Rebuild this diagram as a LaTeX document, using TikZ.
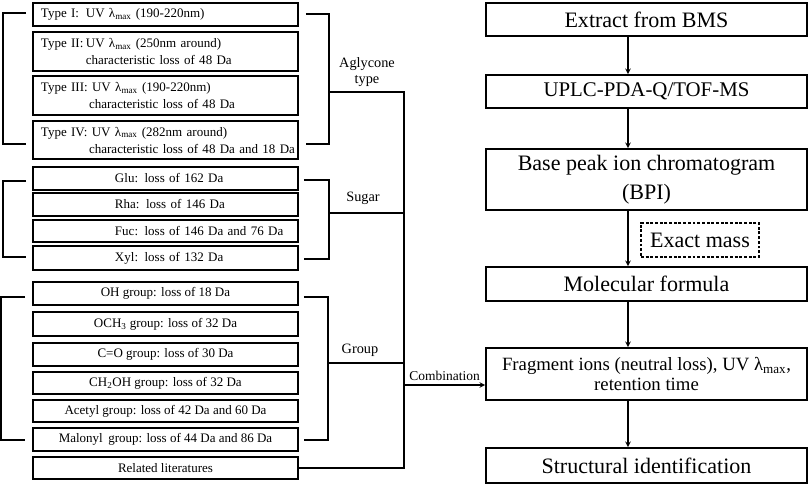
\documentclass[tikz,border=0pt]{standalone}
\usepackage{fontspec}
\setmainfont{Liberation Serif}
\usepackage{tikz}
\usetikzlibrary{arrows,positioning,calc}
\newcommand{\lmax}{λ\textsubscript{max}}
\tikzstyle{leftbox} = [rectangle, draw, line width=1.5pt, minimum width=7.95cm, minimum height=0.69cm, inner xsep=0.24cm, inner ysep=0pt, font=\fontsize{11.1}{14.5}\selectfont]
\tikzstyle{typebox} = [leftbox, text width=7.47cm, align=left]
\tikzstyle{groupbox} = [leftbox, align=center]
\tikzstyle{flowbox} = [rectangle, draw, line width=1.5pt, minimum width=9.63cm, inner ysep=0pt, align=center, font=\fontsize{18.8}{24.5}\selectfont]
\tikzstyle{link} = [line width=1.2pt]
\tikzstyle{arrow} = [line width=1.1pt,->,>=stealth]
\tikzstyle{tag} = [font=\fontsize{12.2}{14}\selectfont, align=center]

\begin{document}
\begin{tikzpicture}[x=0.03cm, y=-0.03cm]
\useasboundingbox (0,0) rectangle (809,485);

% Aglycone types
\node[typebox] (t1) at (165.5,14.5) {\makebox[3.45em][l]{Type I:}UV \lmax{} (190-220nm)};
\node[typebox, minimum height=1.17cm] (t2) at (165.5,51.5) {\makebox[3.45em][l]{Type II:}UV \lmax{} (250nm around)\\\hspace*{3.45em}characteristic loss of 48 Da};
\node[typebox, minimum height=1.17cm] (t3) at (165.5,95.5) {Type III: UV \lmax{} (190-220nm)\\\hspace*{3.7em}characteristic loss of 48 Da};
\node[typebox, minimum height=1.14cm] (t4) at (165.5,140) {Type IV: UV \lmax{} (282nm around)\\\hspace*{3.7em}\mbox{characteristic loss of 48 Da and 18 Da}};

% Sugars
\node[typebox] (glu) at (165.5,178.5) {\hspace*{2.22cm}Glu: loss of 162 Da};
\node[typebox] (rha) at (165.5,204.5) {\hspace*{2.22cm}Rha: loss of 146 Da};
\node[typebox, minimum height=0.66cm] (fuc) at (165.5,231) {\hspace*{2.22cm}Fuc: loss of 146 Da and 76 Da};
\node[typebox, minimum height=0.72cm] (xyl) at (165.5,258) {\hspace*{2.22cm}Xyl: loss of 132 Da};

% Groups
\node[groupbox] (oh) at (165.5,293.5) {OH group: loss of 18 Da};
\node[groupbox, minimum height=0.72cm] (och3) at (165.5,324) {OCH\textsubscript{3} group: loss of 32 Da};
\node[groupbox] (co) at (165.5,354.5) {C=O group: loss of 30 Da};
\node[groupbox, minimum height=0.66cm] (ch2oh) at (165.5,383) {CH\textsubscript{2}OH group: loss of 32 Da};
\node[groupbox, minimum height=0.66cm] (acetyl) at (165.5,411) {Acetyl group: loss of 42 Da and 60 Da};
\node[groupbox] (malonyl) at (165.5,439.5) {Malonyl\, group: loss of 44 Da and 86 Da};
\node[groupbox, minimum height=0.66cm] (related) at (165.5,468) {Related literatures};

% Brackets
\draw[link] ($(t1.west)+(-6,-1.5)$) -- ++(-23,0) |- ($(t4.west)+(-6,4)$);
\draw[link] ($(t1.east)+(7,-0.5)$) -- ++(23,0) |- ($(t4.east)+(7,4)$);
\draw[link] ($(glu.west)+(-6,2.5)$) -- ++(-23,0) |- ($(xyl.west)+(-6,-1)$);
\draw[link] ($(glu.east)+(5,1.5)$) -- ++(25,0) |- ($(xyl.east)+(5,1)$);
\draw[link] ($(oh.west)+(-7,3.5)$) -- ++(-24,0) |- ($(malonyl.west)+(-7,0.5)$);
\draw[link] ($(oh.east)+(5,3.5)$) -- ++(24,0) |- ($(malonyl.east)+(5,0.5)$);

\node[tag] (aglab) at (367,72) {Aglycone\\type};
\node[tag] (sugarlab) at (363,198) {Sugar};
\node[tag] (grouplab) at (360,350) {Group};

% Trunk
\coordinate (trunk) at (404,0);
\coordinate (ag) at (328,92);
\coordinate (su) at (328,213);
\coordinate (gr) at (327,363);
\coordinate (comb) at (404,385);
\draw[link] (ag) -- (ag -| trunk) -- (trunk |- related.east) -- (related.east);
\draw[link] (su) -- (su -| trunk);
\draw[link] (gr) -- (gr -| trunk);

% Workflow
\node[flowbox, minimum height=0.99cm] (extract) at (646.5,19.5) {Extract from BMS};
\node[flowbox, minimum height=0.99cm, font=\fontsize{17.8}{22}\selectfont] (uplc) at (646.5,91.5) {UPLC-PDA-Q/TOF-MS};
\node[flowbox, minimum height=1.83cm] (bpi) at (646.5,179.5) {Base peak ion chromatogram\\(BPI)};
\node[flowbox, minimum width=3.54cm, minimum height=1.02cm, line width=0.9pt, dash pattern=on 2.5pt off 1.5pt] (exact) at (700,240) {Exact mass};
\node[flowbox, minimum height=1.02cm] (formula) at (646.5,284) {Molecular formula};
\node[flowbox, minimum height=1.56cm, font=\fontsize{16}{17}\selectfont] (fragment) at (646.5,374) {Fragment ions (neutral loss), UV \lmax,\\retention time};
\node[flowbox, minimum height=1.05cm] (struct) at (646.5,465.5) {Structural identification};

\coordinate (ax) at (628,0);
\draw[arrow] (extract.south -| ax) -- (uplc.north -| ax);
\draw[arrow] (uplc.south -| ax) -- (bpi.north -| ax);
\draw[arrow] (bpi.south -| ax) -- (formula.north -| ax);
\draw[arrow] (formula.south -| ax) -- (fragment.north -| ax);
\draw[arrow] (fragment.south -| ax) -- (struct.north -| ax);
\draw[arrow] (comb) -- (comb -| fragment.west) node[midway, above, font=\fontsize{11.5}{13}\selectfont] (comblab) {Combination};
\end{tikzpicture}
\end{document}
